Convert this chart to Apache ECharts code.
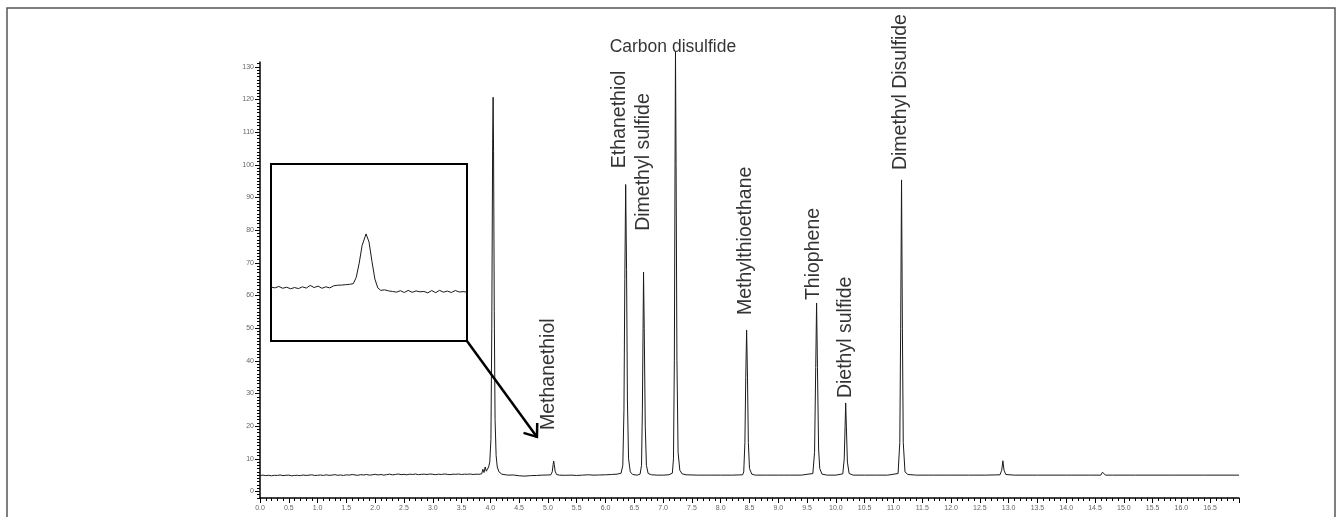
<!DOCTYPE html>
<html>
<head>
<meta charset="utf-8">
<script src="https://cdn.jsdelivr.net/npm/echarts@6/dist/echarts.min.js"></script>
<style>html,body{margin:0;padding:0;background:#fff}#c{width:1341px;height:517px}</style>
</head>
<body>
<div id="c"></div>
<script>
// ---- main chromatogram trace (time, min ; signal) ----
const times = [
 0.00,0.05,0.10,0.15,0.20,0.25,0.30,0.35,0.40,0.45,0.50,0.55,0.60,0.65,0.70,0.75,0.80,0.85,0.90,0.95,
 1.00,1.05,1.10,1.15,1.20,1.25,1.30,1.35,1.40,1.45,1.50,1.55,1.60,1.65,1.70,1.75,1.80,1.85,1.90,1.95,
 2.00,2.05,2.10,2.15,2.20,2.25,2.30,2.35,2.40,2.45,2.50,2.55,2.60,2.65,2.70,2.75,2.80,2.85,2.90,2.95,
 3.00,3.05,3.10,3.15,3.20,3.25,3.30,3.35,3.40,3.45,3.50,3.55,3.60,3.65,3.70,3.75,3.80,
 3.85,3.87,3.89,3.91,3.93,3.95,3.97,3.99,4.01,4.025,4.04,4.048,4.056,4.068,4.082,4.10,4.12,4.15,4.20,
 4.30,4.40,4.50,4.60,4.70,4.80,4.90,5.00,5.05,5.075,5.09,5.10,5.11,5.125,5.15,5.20,
 5.30,5.40,5.50,5.60,5.70,5.80,5.90,6.00,6.10,6.20,
 6.27,6.30,6.32,6.335,6.35,6.365,6.38,6.40,6.43,6.47,6.55,
 6.60,6.625,6.64,6.652,6.66,6.672,6.69,6.71,6.74,6.80,6.90,7.00,7.10,
 7.16,7.18,7.195,7.207,7.215,7.225,7.24,7.26,7.29,7.33,7.40,
 7.60,7.80,8.00,8.20,8.38,8.40,8.42,8.435,8.45,8.465,8.48,8.50,8.54,8.60,
 8.80,9.00,9.20,9.40,9.60,9.63,9.65,9.665,9.68,9.70,9.72,9.76,9.85,
 10.00,10.12,10.145,10.16,10.17,10.182,10.20,10.23,10.30,
 10.50,10.70,10.90,11.08,11.11,11.125,11.14,11.155,11.17,11.20,11.25,11.40,
 11.70,12.00,12.30,12.60,12.85,12.88,12.90,12.92,12.95,13.10,
 13.50,14.00,14.40,14.60,14.63,14.65,14.68,14.80,15.20,15.80,16.40,17.00
];
const signal = [
 4.90,5.00,4.85,4.95,4.80,4.95,4.90,5.05,4.85,4.95,5.00,4.80,4.90,4.95,4.85,5.05,4.90,5.00,5.10,4.90,
 4.95,5.05,4.90,5.10,4.95,5.00,5.15,4.95,5.05,4.90,5.10,5.00,5.20,5.05,4.95,5.15,5.05,5.20,5.00,5.10,
 5.25,5.05,5.20,5.00,5.15,5.30,5.10,5.20,5.35,5.15,5.25,5.10,5.30,5.20,5.35,5.15,5.25,5.30,5.20,5.35,
 5.25,5.15,5.30,5.20,5.35,5.25,5.15,5.30,5.25,5.35,5.20,5.30,5.25,5.35,5.20,5.30,5.25,
 5.40,6.80,5.80,7.50,6.20,6.50,7.50,9.00,16.0,50.0,108.0,120.7,104.0,55.0,22.0,11.0,7.5,6.0,5.3,
 5.00,5.05,4.80,4.70,4.85,4.90,5.00,5.05,5.10,6.00,8.20,9.30,8.20,6.20,5.20,5.00,
 4.95,5.00,4.90,5.00,5.10,5.00,5.05,5.10,5.20,5.30,
 5.60,8.00,25.0,65.0,94.0,68.0,28.0,10.0,6.00,5.20,5.00,
 5.30,8.00,25.0,50.0,67.2,50.0,20.0,8.00,5.50,5.10,5.00,5.00,5.10,
 5.60,10.0,40.0,100.0,134.6,100.0,40.0,12.0,6.50,5.40,5.10,
 5.00,5.00,5.00,5.00,5.10,6.00,15.0,35.0,49.4,35.0,15.0,7.00,5.30,5.00,
 5.00,5.00,5.00,5.00,5.50,12.0,38.0,57.7,38.0,13.0,7.00,5.30,5.00,
 5.00,5.40,10.0,20.0,27.1,20.0,9.00,5.50,5.00,
 5.00,5.00,5.00,5.50,15.0,50.0,95.4,50.0,15.0,6.00,5.20,5.00,
 5.00,5.00,5.00,5.00,5.10,6.50,9.40,6.50,5.20,5.00,
 5.00,5.00,5.00,5.00,5.90,5.50,5.00,5.00,5.00,5.00,5.00,5.00
];

// ---- inset (magnified Methanethiol region, relative units) ----
const insetX = [0,2,4,6,8,10,12,14,16,18,20,22,24,26,28,30,32,34,36,38,40,42,43.5,45,46.5,48.5,50,51.5,53,54.5,
 56,58,60,62,64,66,68,70,72,74,76,78,80,82,84,86,88,90,92,94,96,98,100];
const insetY = [30.5,30.0,30.8,29.8,30.4,29.5,30.2,29.6,30.6,29.9,31.4,30.2,31.0,29.8,30.6,30.0,31.2,31.5,31.6,31.8,32.0,32.4,36.0,44.0,54.0,60.5,56.0,45.0,35.0,30.0,
 28.6,28.9,28.3,28.0,27.6,28.4,27.4,28.6,27.5,28.3,27.8,28.0,27.2,28.5,27.3,28.6,27.6,28.2,27.4,28.5,27.7,27.9,27.6];

// ---- compound labels ----
const labelNames = ['Methanethiol','Ethanethiol','Dimethyl sulfide','Carbon disulfide','Methylthioethane','Thiophene','Diethyl sulfide','Dimethyl Disulfide'];
const labelTimes = [5.017, 6.245, 6.667, 7.17, 8.43, 9.61, 10.165, 11.12];
const labelLevels = [18.8, 99.0, 79.8, 136.1, 54.0, 58.6, 28.6, 98.4];

// ---- tick values ----
const yMajorTicks = [0,10,20,30,40,50,60,70,80,90,100,110,120,130];
const yMinorTicks = [];
for (let v = -2; v <= 131; v += 1) yMinorTicks.push(v);

const FONT = 'Liberation Sans, Arial, sans-serif';
const chart = echarts.init(document.getElementById('c'), null, {renderer: 'canvas'});

const labelData = labelNames.map((n, i) => {
  const horiz = n === 'Carbon disulfide';
  return {
    value: [labelTimes[i], labelLevels[i]],
    name: n,
    label: horiz ? {rotate: 0, align: 'center', verticalAlign: 'middle', fontSize: 17.5}
                 : {rotate: 90, align: 'left', verticalAlign: 'middle', fontSize: 19.5}
  };
});

const option = {
  animation: false,
  backgroundColor: '#fff',
  grid: [
    {left: 260, top: 62, width: 979, height: 436, containLabel: false},
    {left: 271, top: 164, width: 196, height: 177, show: true, borderColor: '#000', borderWidth: 2, backgroundColor: '#fff', z: 5}
  ],
  xAxis: [
    {
      type: 'value', gridIndex: 0, min: 0, max: 17, interval: 0.5,
      axisLine: {show: true, onZero: false, lineStyle: {color: '#000', width: 1.5}},
      axisTick: {show: true, length: 5, lineStyle: {color: '#000', width: 1}},
      minorTick: {show: true, splitNumber: 5, length: 3, lineStyle: {color: '#000', width: 1}},
      splitLine: {show: false},
      axisLabel: {fontSize: 7, color: '#666', fontFamily: FONT, margin: 7, showMaxLabel: false,
        formatter: v => v.toFixed(1)}
    },
    {type: 'value', gridIndex: 1, min: 0, max: 100, show: false}
  ],
  yAxis: [
    {
      type: 'value', gridIndex: 0, min: -2, max: 131.5,
      axisLine: {show: true, onZero: false, lineStyle: {color: '#000', width: 1.5}},
      axisTick: {show: true, length: 5, customValues: yMajorTicks, lineStyle: {color: '#000', width: 1}},
      splitLine: {show: false},
      axisLabel: {fontSize: 7, color: '#666', fontFamily: FONT, margin: 6, customValues: yMajorTicks}
    },
    {
      type: 'value', gridIndex: 0, min: -2, max: 131.5, position: 'left', offset: 0,
      axisLine: {show: false},
      axisTick: {show: true, length: 3, customValues: yMinorTicks, lineStyle: {color: '#000', width: 1}},
      splitLine: {show: false},
      axisLabel: {show: false}
    },
    {type: 'value', gridIndex: 1, min: 0, max: 100, show: false}
  ],
  series: [
    {
      type: 'line', xAxisIndex: 0, yAxisIndex: 0, clip: false, showSymbol: false, symbol: 'none',
      data: times.map((t, i) => [t, signal[i]]),
      lineStyle: {color: '#1a1a1a', width: 1}
    },
    {
      type: 'line', xAxisIndex: 1, yAxisIndex: 2, showSymbol: false, symbol: 'none', z: 6,
      data: insetX.map((x, i) => [x, insetY[i]]),
      lineStyle: {color: '#1a1a1a', width: 1}
    },
    {
      type: 'scatter', xAxisIndex: 0, yAxisIndex: 0, symbolSize: 1, clip: false,
      itemStyle: {color: 'rgba(0,0,0,0)'},
      label: {show: true, position: 'inside', formatter: p => p.name, fontSize: 19.5, color: '#000', fontFamily: FONT},
      data: labelData, z: 10, silent: true
    }
  ]
};
chart.setOption(option);

// arrow from inset corner to Methanethiol region
const arrowFrom = [3.594, 46.1];
const arrowTo = [4.809, 16.7];
const p0 = chart.convertToPixel({xAxisIndex: 0, yAxisIndex: 0}, arrowFrom);
const p1 = chart.convertToPixel({xAxisIndex: 0, yAxisIndex: 0}, arrowTo);
const ang = Math.atan2(p0[1] - p1[1], p0[0] - p1[0]);
const armLen = 14, spread = 0.65;
const a1 = [p1[0] + armLen * Math.cos(ang - spread), p1[1] + armLen * Math.sin(ang - spread)];
const a2 = [p1[0] + armLen * Math.cos(ang + spread), p1[1] + armLen * Math.sin(ang + spread)];

chart.setOption({
  graphic: [
    {type: 'rect', shape: {x: 7, y: 8, width: 1328, height: 520}, style: {fill: 'none', stroke: '#555', lineWidth: 1.5}, silent: true, z: 0},
    {type: 'line', shape: {x1: p0[0], y1: p0[1], x2: p1[0], y2: p1[1]}, style: {stroke: '#000', lineWidth: 2.5}, z: 20},
    {type: 'polyline', shape: {points: [a1, p1, a2]}, style: {stroke: '#000', lineWidth: 2.5, fill: 'none'}, z: 20}
  ]
});
</script>
</body>
</html>
